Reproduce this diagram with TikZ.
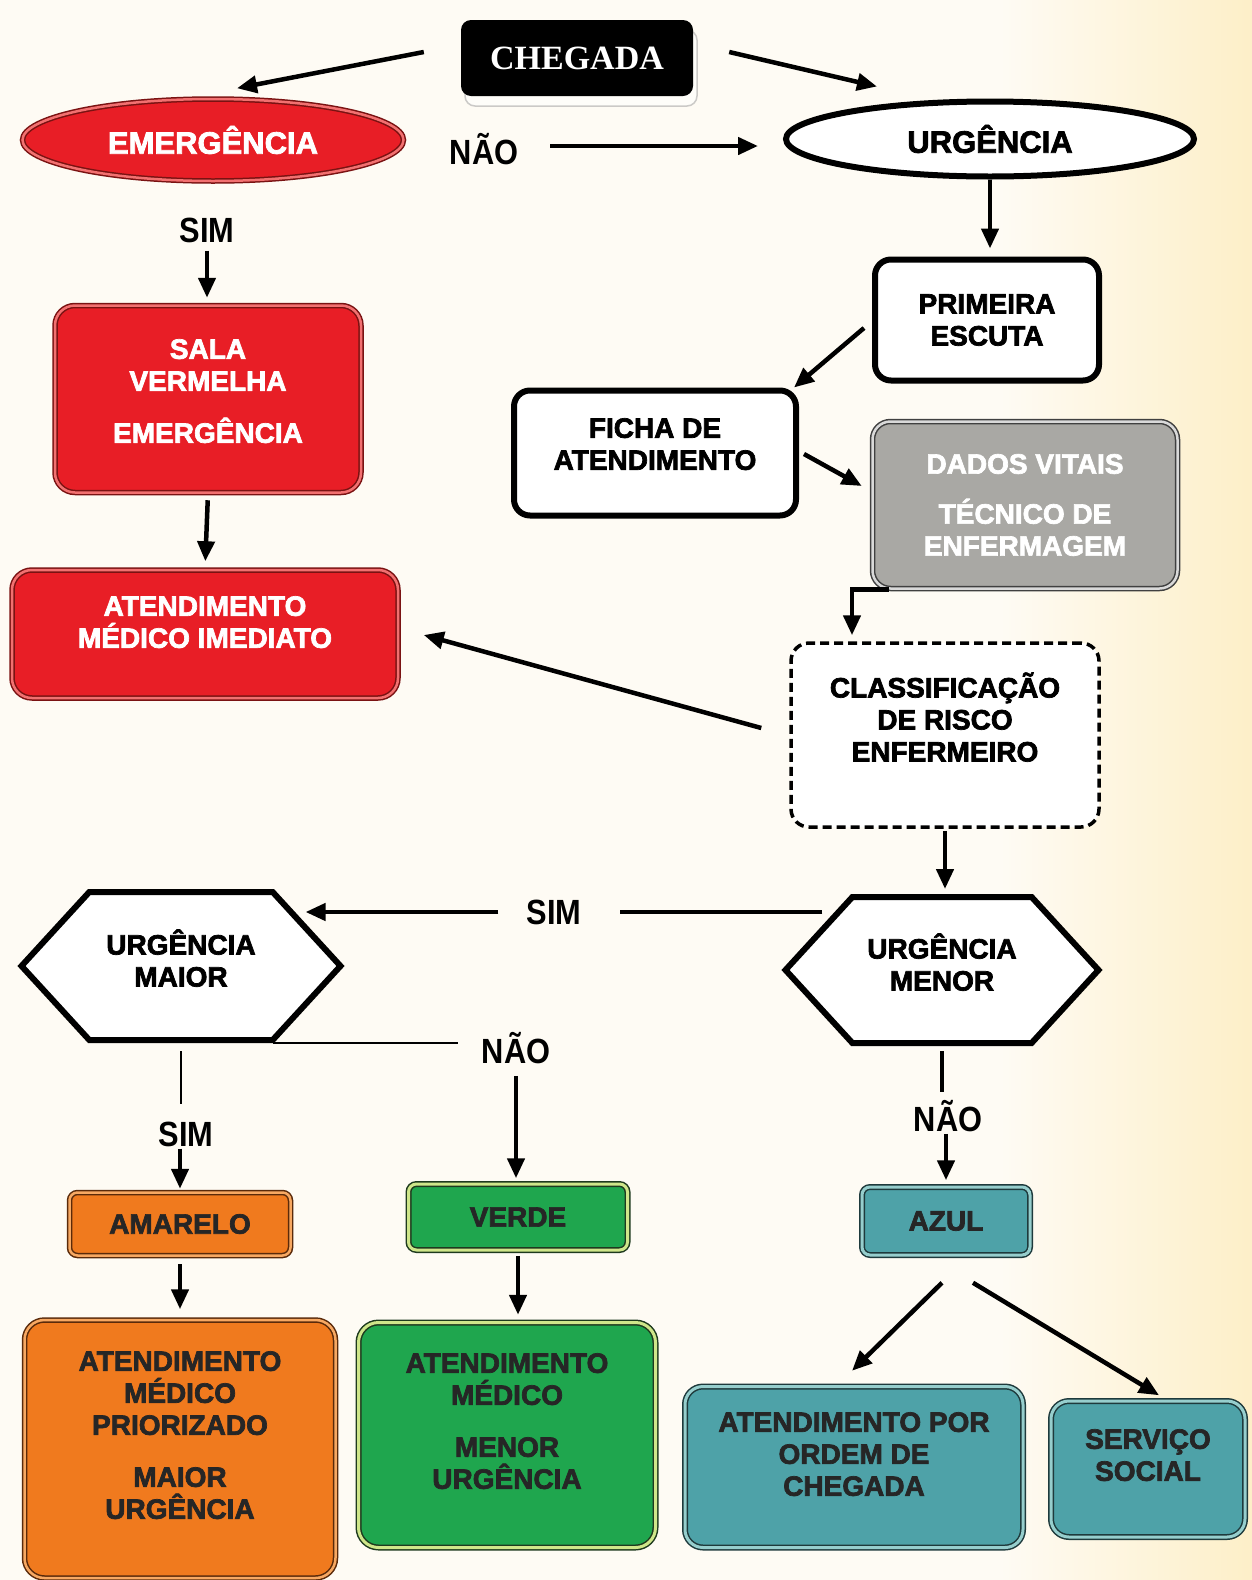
\documentclass[tikz,border=0pt]{standalone}
\usepackage{fontspec}
\setmainfont{Liberation Sans}
\newfontfamily\heavyfont{Liberation Sans Bold}[FakeBold=2.5]
\newfontfamily\labelfont{Liberation Sans Bold}[FakeStretch=0.88]
\newfontfamily\serifheavy{Liberation Serif Bold}
\usetikzlibrary{shapes.geometric,shapes.symbols,arrows.meta,shadows}
\definecolor{cream}{HTML}{FEFBF4}
\definecolor{sand}{HTML}{FDEFC8}
\definecolor{emred}{HTML}{E81E26}
\definecolor{emredline}{HTML}{7A1212}
\definecolor{emredlight}{HTML}{F27070}
\definecolor{grayfill}{HTML}{A9A8A4}
\definecolor{orfill}{HTML}{F07A1E}
\definecolor{orline}{HTML}{5A2A0A}
\definecolor{orlight}{HTML}{F7A862}
\definecolor{grfill}{HTML}{1FA64E}
\definecolor{grline}{HTML}{1E3A1E}
\definecolor{grlight}{HTML}{CFE68A}
\definecolor{tlfill}{HTML}{4EA2A8}
\definecolor{tlline}{HTML}{1E3A3C}
\definecolor{tllight}{HTML}{96CECD}
\tikzset{
  boxtext/.style={align=center, font=\heavyfont\fontsize{28}{32}\selectfont},
  whitebox/.style={boxtext, draw=black, line width=6pt, fill=white, rounded corners=16pt},
  dashbox/.style={boxtext, draw=black, line width=3.5pt, dash pattern=on 9pt off 5pt, fill=white, rounded corners=18pt},
  redbox/.style={boxtext, text=white, fill=emred, draw=emredline, double=emredlight, double distance=2.5pt, line width=1.5pt, rounded corners=20pt},
  greybox/.style={boxtext, text=white, fill=grayfill, draw=black!75, double=gray!30, double distance=2.5pt, line width=1.5pt, rounded corners=18pt},
  orangebox/.style={boxtext, text=black!85, fill=orfill, draw=orline, double=orlight, double distance=2.5pt, line width=1.5pt, rounded corners=20pt},
  greenbox/.style={boxtext, text=black!85, fill=grfill, draw=grline, double=grlight, double distance=3pt, line width=1.5pt, rounded corners=20pt},
  tealbox/.style={boxtext, text=black!85, fill=tlfill, draw=tlline, double=tllight, double distance=3pt, line width=1.5pt, rounded corners=18pt},
  hexa/.style={boxtext, signal, signal to=east and west, signal pointer angle=95, draw=black, line width=6pt, fill=white, inner sep=0pt},
  lbl/.style={font=\labelfont\fontsize{35}{38}\selectfont, inner sep=2pt},
  arr/.style={line width=4.5pt, -{Triangle[length=20pt,width=17pt]}},
  thinline/.style={line width=2pt}
}
\begin{document}
\begin{tikzpicture}[x=1pt,y=-1pt]
  \fill[cream] (0,0) rectangle (1000,1580);
  \shade[left color=cream, right color=sand] (1000,0) rectangle (1252,1580);
  \useasboundingbox (0,0) rectangle (1252,1580);

  \node[fill=black, text=white, rounded corners=10pt, minimum width=232pt, minimum height=76pt,
        font=\serifheavy\fontsize{34}{38}\selectfont,
        drop shadow={shadow xshift=4pt, shadow yshift=-10pt, fill=white, draw=gray!80, line width=1.5pt}]
        (chegada) at (577,58) {CHEGADA};
  \node[ellipse, fill=emred, draw=emredline, double=emredlight, double distance=2.5pt, line width=1.5pt,
        minimum width=381pt, minimum height=82pt, inner sep=0pt, text=white, boxtext,
        font=\heavyfont\fontsize{31}{34}\selectfont] (emergencia) at (213,140) {EMERGÊNCIA};
  \node[ellipse, draw=black, line width=6pt, fill=white, minimum width=408pt, minimum height=75pt,
        inner sep=0pt, boxtext, font=\heavyfont\fontsize{31}{34}\selectfont] (urgencia) at (990,139) {URGÊNCIA};
  \node[lbl] (nao1) at (484,149) {NÃO};
  \node[lbl] (sim1) at (207,230) {SIM};
  \node[whitebox, minimum width=224pt, minimum height=121pt] (primeira) at (987,320) {PRIMEIRA\\ESCUTA};
  \node[redbox, minimum width=306pt, minimum height=187pt] (sala) at (208,399) {SALA\\VERMELHA\\[20pt]EMERGÊNCIA\\[-16pt]\mbox{}};
  \node[redbox, minimum width=386pt, minimum height=128pt] (imediato) at (205,634) {ATENDIMENTO\\MÉDICO IMEDIATO\\[-8pt]\mbox{}};
  \node[whitebox, minimum width=282pt, minimum height=125pt] (ficha) at (655,453) {FICHA DE\\ATENDIMENTO\\[-14pt]\mbox{}};
  \node[greybox, minimum width=305pt, minimum height=167pt] (dados) at (1025,505) {DADOS VITAIS\\[18pt]TÉCNICO DE\\ENFERMAGEM};
  \node[dashbox, minimum width=308pt, minimum height=184pt] (classif) at (945,735) {CLASSIFICAÇÃO\\DE RISCO\\ENFERMEIRO\\[4pt]\mbox{}};
  \node[hexa, minimum width=319pt, minimum height=148pt] (maior) at (181,966) {URGÊNCIA\\MAIOR\\[-16pt]\mbox{}};
  \node[hexa, minimum width=313pt, minimum height=146pt] (menor) at (942,970) {URGÊNCIA\\MENOR\\[-16pt]\mbox{}};
  \node[lbl] (sim2) at (554,912) {SIM};
  \node[lbl] (nao2) at (516,1048) {NÃO};
  \node[lbl] (sim3) at (186,1134) {SIM};
  \node[lbl] (nao3) at (948,1116) {NÃO};
  \node[orangebox, rounded corners=8pt, minimum width=221pt, minimum height=63pt] (amarelo) at (180,1224) {AMARELO};
  \node[greenbox, rounded corners=8pt, minimum width=219pt, minimum height=66pt] (verde) at (518,1217) {VERDE};
  \node[tealbox, rounded corners=8pt, minimum width=168pt, minimum height=68pt] (azul) at (946,1221) {AZUL};
  \node[orangebox, minimum width=311pt, minimum height=258pt] (priorizado) at (180,1449) {ATENDIMENTO\\MÉDICO\\PRIORIZADO\\[20pt]MAIOR\\URGÊNCIA\\[-4pt]\mbox{}};
  \node[greenbox, minimum width=297pt, minimum height=225pt] (menorurg) at (507,1435) {ATENDIMENTO\\MÉDICO\\[20pt]MENOR\\URGÊNCIA\\[-4pt]\mbox{}};
  \node[tealbox, minimum width=338pt, minimum height=161pt] (ordem) at (854,1467) {ATENDIMENTO POR\\ORDEM DE\\CHEGADA\\[-6pt]\mbox{}};
  \node[tealbox, minimum width=194pt, minimum height=136pt] (servico) at (1148,1469) {SERVIÇO\\SOCIAL\\[-4pt]\mbox{}};

  \draw[arr] ([shift={(-37,-6)}]chegada.west) -- ([shift={(24,-10)}]emergencia.north);
  \draw[arr] ([shift={(36,-6)}]chegada.east) -- ([shift={(-113,-12)}]urgencia.north);
  \draw[arr, shorten <=30pt, shorten >=25pt] ([yshift=3pt]nao1.east) -- ([yshift=3pt]nao1.east -| urgencia.west);
  \draw[arr, shorten <=6pt, shorten >=7pt] (sim1.south) -- (sim1.south |- sala.north);
  \draw[arr, shorten >=8pt] (urgencia.south) -- (urgencia.south |- primeira.north);
  \draw[arr, shorten <=7pt, shorten >=8pt] (sala.south) -- (imediato.north);
  \draw[arr] ([shift={(-8,8)}]primeira.west) -- ([xshift=-5pt]ficha.north east);
  \draw[arr] ([shift={(5,1)}]ficha.east) -- ([shift={(-10,-19)}]dados.west);
  \draw[arr, shorten >=6pt] ([xshift=17pt]dados.south west) -| ([xshift=-93pt]classif.north);
  \draw[arr] ([shift={(-28,-7)}]classif.west) -- ([shift={(25,1)}]imediato.east);
  \draw[arr, shorten <=2pt, shorten >=5pt] (classif.south) -- (classif.south |- menor.north);
  \draw[line width=4.5pt] ([shift={(41,-58)}]menor.west) -- ([xshift=36pt]sim2.east);
  \draw[arr] ([xshift=-26pt]sim2.west) -- ([shift={(-39,-54)}]maior.east);
  \draw[thinline] ([shift={(92,77)}]maior.center) -- ([shift={(-22,-5)}]nao2.west);
  \draw[arr, shorten <=10pt, shorten >=5pt] (nao2.south) -- (nao2.south |- verde.north);
  \draw[thinline, shorten <=8pt, shorten >=15pt] (maior.south) -- (maior.south |- sim3.north);
  \draw[arr, shorten >=3pt] (sim3.south -| amarelo.north) -- (amarelo.north);
  \draw[arr, shorten <=8pt, shorten >=10pt] (amarelo.south) -- (priorizado.north);
  \draw[arr, shorten <=5pt, shorten >=7pt] (verde.south) -- (verde.south |- menorurg.north);
  \draw[line width=4.5pt, shorten <=5pt] (menor.south) -- ([yshift=6pt]menor.south |- nao3.north);
  \draw[arr, shorten >=6pt] (nao3.south -| azul.north) -- (azul.north);
  \draw[arr] ([shift={(-4,27)}]azul.south) -- ([shift={(-2,-15)}]ordem.north);
  \draw[arr] ([shift={(27,27)}]azul.south) -- ([shift={(11,-5)}]servico.north);
\end{tikzpicture}
\end{document}
